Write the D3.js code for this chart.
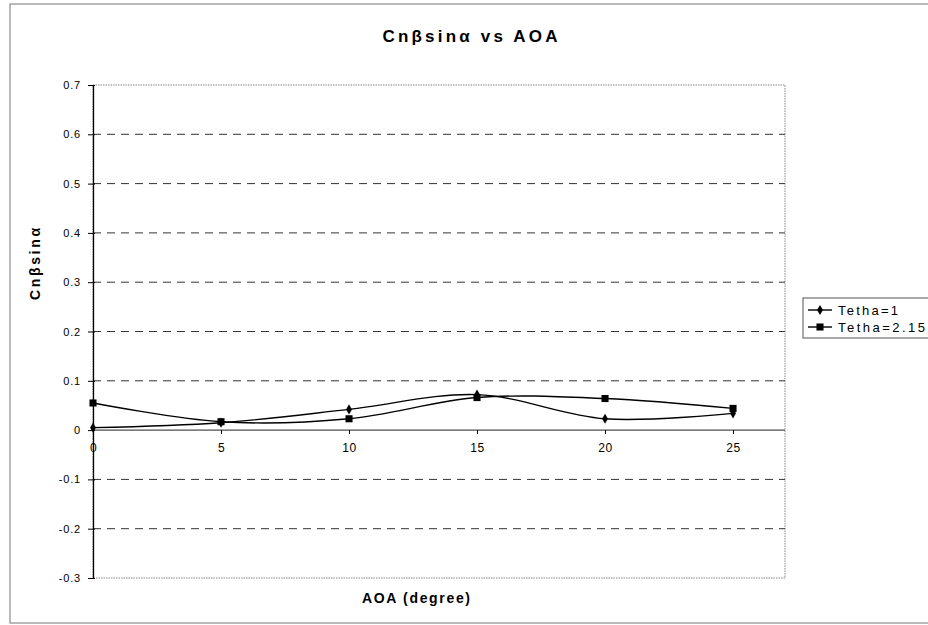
<!DOCTYPE html>
<html>
<head>
<meta charset="utf-8">
<script src="https://cdn.jsdelivr.net/npm/d3@7"></script>
<style>
  html, body { margin: 0; padding: 0; background: #fff; }
  svg { display: block; font-family: Arial, "Liberation Sans", sans-serif; }
</style>
</head>
<body>
<script>
// Angle of attack (degrees)
const aoa = [0, 5, 10, 15, 20, 25];
// Cnβ·sinα for each configuration
const tetha1 = [0.005, 0.015, 0.042, 0.072, 0.023, 0.034];
const tetha215 = [0.055, 0.017, 0.023, 0.066, 0.064, 0.044];
const seriesNames = ["Tetha=1", "Tetha=2.15"];
const yTicks = [0.7, 0.6, 0.5, 0.4, 0.3, 0.2, 0.1, 0, -0.1, -0.2, -0.3];
const xTicks = [0, 5, 10, 15, 20, 25];

const W = 928, H = 625;
const plot = { left: 93, top: 85, right: 785, bottom: 578 };
const FONT = "Arial, 'Liberation Sans', sans-serif";

const svg = d3.select("body").append("svg").attr("width", W).attr("height", H);

// outer chart frame
svg.append("rect")
  .attr("x", 10).attr("y", 4).attr("width", 940).attr("height", 619)
  .attr("fill", "none").attr("stroke", "#777").attr("stroke-width", 1);

const x = d3.scaleLinear().domain([0, 27.03]).range([plot.left, plot.right]);
const y = d3.scaleLinear().domain([-0.3, 0.7]).range([plot.bottom, plot.top]);

// plot area border
svg.append("rect")
  .attr("x", plot.left).attr("y", plot.top)
  .attr("width", plot.right - plot.left).attr("height", plot.bottom - plot.top)
  .attr("fill", "none").attr("stroke", "#888").attr("stroke-width", 1)
  .attr("stroke-dasharray", "1.5,1");

// horizontal dashed gridlines
svg.append("g").selectAll("line")
  .data(yTicks.filter(v => v !== 0 && v !== 0.7 && v !== -0.3))
  .join("line")
  .attr("x1", plot.left).attr("x2", plot.right)
  .attr("y1", d => y(d)).attr("y2", d => y(d))
  .attr("stroke", "#333").attr("stroke-width", 1)
  .attr("stroke-dasharray", "8,6");

// y axis
const yAxis = d3.axisLeft(y).tickValues(yTicks).tickSize(5).tickSizeOuter(0)
  .tickFormat(d => String(+d.toFixed(1)));
const gy = svg.append("g").attr("transform", `translate(${plot.left},0)`).call(yAxis);
gy.select(".domain").attr("stroke", "#000").attr("stroke-width", 1.3);
gy.selectAll(".tick line").attr("stroke", "#000").attr("x2", -5).attr("x1", 2);
gy.selectAll(".tick text").attr("font-size", 11).attr("fill", "#000").attr("x", -12)
  .attr("letter-spacing", "0.8px").attr("font-family", FONT);

// x axis along zero
const xAxis = d3.axisBottom(x).tickValues(xTicks).tickSize(4).tickSizeOuter(0)
  .tickFormat(d => String(d));
const gx = svg.append("g").attr("transform", `translate(0,${y(0)})`).call(xAxis);
gx.select(".domain").attr("stroke", "#222").attr("stroke-width", 1).attr("d", `M${plot.left},0H${plot.right}`);
gx.selectAll(".tick line").attr("stroke", "#000");
gx.selectAll(".tick text").attr("font-size", 12).attr("fill", "#000").attr("y", 13)
  .attr("letter-spacing", "0.5px").attr("font-family", FONT);

// data lines (smoothed)
const line = d3.line()
  .x((d, i) => x(aoa[i]))
  .y(d => y(d))
  .curve(d3.curveCatmullRom.alpha(0.5));

const seriesData = [tetha1, tetha215];
const g = svg.append("g");
seriesData.forEach(vals => {
  g.append("path")
    .attr("d", line(vals))
    .attr("fill", "none").attr("stroke", "#000").attr("stroke-width", 1.4);
});

// markers: diamonds for Tetha=1, squares for Tetha=2.15
const diamond = d3.symbol().type(d3.symbolDiamond).size(30);
const square = d3.symbol().type(d3.symbolSquare).size(50);
g.selectAll(".m1").data(tetha1).join("path")
  .attr("transform", (d, i) => `translate(${x(aoa[i])},${y(d)})`)
  .attr("d", diamond).attr("fill", "#000");
g.selectAll(".m2").data(tetha215).join("path")
  .attr("transform", (d, i) => `translate(${x(aoa[i])},${y(d)})`)
  .attr("d", square).attr("fill", "#000");

// title
svg.append("text")
  .attr("x", 470).attr("y", 42).attr("text-anchor", "middle")
  .attr("font-size", 17).attr("font-weight", "bold").attr("fill", "#000")
  .attr("textLength", 175).attr("lengthAdjust", "spacing")
  .text("Cnβsinα vs AOA");

// axis titles
svg.append("text")
  .attr("x", 416).attr("y", 603).attr("text-anchor", "middle")
  .attr("font-size", 14).attr("font-weight", "bold").attr("fill", "#000")
  .attr("textLength", 108).attr("lengthAdjust", "spacing")
  .text("AOA (degree)");
svg.append("text")
  .attr("transform", "translate(40,264) rotate(-90)")
  .attr("text-anchor", "middle")
  .attr("font-size", 14).attr("font-weight", "bold").attr("fill", "#000")
  .attr("textLength", 72).attr("lengthAdjust", "spacing")
  .text("Cnβsinα");

// legend
const lg = svg.append("g").attr("transform", "translate(803,298)");
lg.append("rect").attr("x", 0).attr("y", 0).attr("width", 140).attr("height", 40)
  .attr("fill", "#fff").attr("stroke", "#555").attr("stroke-width", 1);
const markers = [diamond, square];
const legendWidths = [60, 87];
seriesNames.forEach((name, i) => {
  const yy = 12 + i * 17;
  lg.append("line").attr("x1", 5).attr("x2", 29).attr("y1", yy).attr("y2", yy)
    .attr("stroke", "#000").attr("stroke-width", 1.4);
  lg.append("path").attr("transform", `translate(17,${yy})`).attr("d", markers[i]).attr("fill", "#000");
  lg.append("text").attr("x", 35).attr("y", yy + 5)
    .attr("font-size", 13).attr("fill", "#000")
    .attr("textLength", legendWidths[i]).attr("lengthAdjust", "spacing")
    .text(name);
});
</script>
</body>
</html>
